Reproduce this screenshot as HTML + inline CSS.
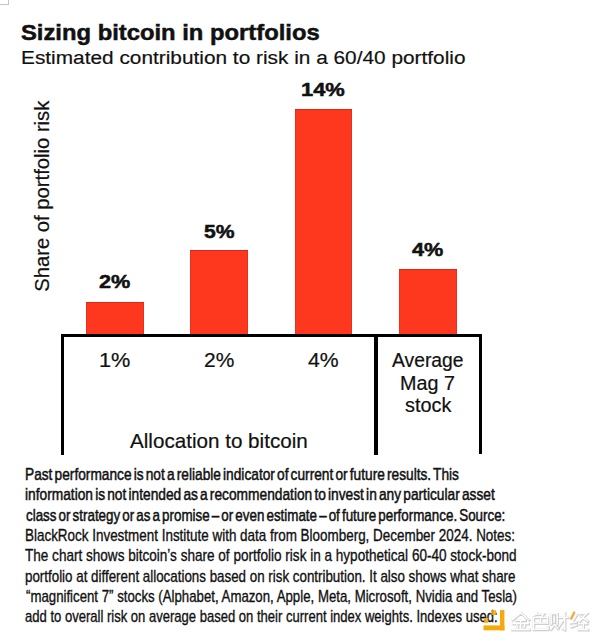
<!DOCTYPE html>
<html><head><meta charset="utf-8">
<style>
html,body{margin:0;padding:0;background:#fff;}
body{width:600px;height:642px;position:relative;overflow:hidden;font-family:"Liberation Sans",sans-serif;color:#111;}
.a{position:absolute;white-space:nowrap;line-height:1;transform-origin:0 0;}
.bar{position:absolute;background:#fe371f;box-shadow:inset 0 1px 0 rgba(150,20,10,0.35),inset 1px 0 0 rgba(150,20,10,0.2),inset -1px 0 0 rgba(150,20,10,0.2);}
.ln{position:absolute;background:#000;}
.b{font-weight:bold;}
</style></head><body>
<div class="bar" style="left:86px;top:301.5px;width:58px;height:32.5px;"></div>
<div class="bar" style="left:189.9px;top:249.8px;width:58.1px;height:84.2px;"></div>
<div class="bar" style="left:294.7px;top:109px;width:57.6px;height:225px;"></div>
<div class="bar" style="left:399.2px;top:269px;width:57.8px;height:65px;"></div>
<div class="ln" style="left:61px;top:334px;width:420.5px;height:3px;"></div>
<div class="ln" style="left:61px;top:334px;width:3.2px;height:120.5px;"></div>
<div class="ln" style="left:374.2px;top:334px;width:3.4px;height:120.7px;"></div>
<div class="ln" style="left:478.8px;top:334px;width:2.8px;height:120.4px;"></div>
<div class="a b" id="title" style="left:20.80px;top:22px;font-size:22.5px;transform:scaleX(1.0573);-webkit-text-stroke:0.5px #111;">Sizing bitcoin in portfolios</div>
<div class="a" id="sub" style="left:20.71px;top:48px;font-size:19.2px;transform:scaleX(1.0854);-webkit-text-stroke:0.2px #111;">Estimated contribution to risk in a 60/40 portfolio</div>
<div class="a b" id="v1" style="left:98.80px;top:272px;font-size:19.2px;transform:scaleX(1.1275);-webkit-text-stroke:0.5px #111;">2%</div>
<div class="a b" id="v2" style="left:204.10px;top:222px;font-size:19.2px;transform:scaleX(1.0986);-webkit-text-stroke:0.5px #111;">5%</div>
<div class="a b" id="v3" style="left:301.06px;top:80px;font-size:19.2px;transform:scaleX(1.1408);-webkit-text-stroke:0.5px #111;">14%</div>
<div class="a b" id="v4" style="left:412.40px;top:240px;font-size:19.2px;transform:scaleX(1.1275);-webkit-text-stroke:0.5px #111;">4%</div>
<div class="a" id="x1" style="left:98.99px;top:351px;font-size:19.5px;transform:scaleX(1.1138);-webkit-text-stroke:0.2px #111;">1%</div>
<div class="a" id="x2" style="left:204.10px;top:351px;font-size:19.5px;transform:scaleX(1.0738);-webkit-text-stroke:0.2px #111;">2%</div>
<div class="a" id="x3" style="left:308.00px;top:351px;font-size:19.5px;transform:scaleX(1.0882);-webkit-text-stroke:0.2px #111;">4%</div>
<div class="a" id="x4a" style="left:392.10px;top:351px;font-size:19.3px;transform:scaleX(1.0008);-webkit-text-stroke:0.2px #111;">Average</div>
<div class="a" id="x4b" style="left:399.88px;top:374px;font-size:19.3px;transform:scaleX(1.0238);-webkit-text-stroke:0.2px #111;">Mag 7</div>
<div class="a" id="x4c" style="left:404.50px;top:396px;font-size:19.3px;transform:scaleX(1.0295);-webkit-text-stroke:0.2px #111;">stock</div>
<div class="a" id="alloc" style="left:130.00px;top:432px;font-size:19.8px;transform:scaleX(1.0429);-webkit-text-stroke:0.2px #111;">Allocation to bitcoin</div>
<div class="a" id="f1" style="left:25.22px;top:467px;font-size:16.6px;transform:scaleX(0.8260);word-spacing:-2.0px;-webkit-text-stroke:0.5px #111;">Past performance is not a reliable indicator of current or future results. This</div>
<div class="a" id="f2" style="left:24.97px;top:487px;font-size:16.6px;transform:scaleX(0.8282);word-spacing:-2.0px;-webkit-text-stroke:0.5px #111;">information is not intended as a recommendation to invest in any particular asset</div>
<div class="a" id="f3" style="left:25.80px;top:508px;font-size:16.6px;transform:scaleX(0.8064);word-spacing:-2.0px;-webkit-text-stroke:0.5px #111;">class or strategy or as a promise – or even estimate – of future performance. Source:</div>
<div class="a" id="f4" style="left:25.29px;top:528px;font-size:16.6px;transform:scaleX(0.8099);-webkit-text-stroke:0.35px #111;">BlackRock Investment Institute with data from Bloomberg, December 2024. Notes:</div>
<div class="a" id="f5" style="left:25.30px;top:548px;font-size:16.6px;transform:scaleX(0.8166);-webkit-text-stroke:0.35px #111;">The chart shows bitcoin’s share of portfolio risk in a hypothetical 60-40 stock-bond</div>
<div class="a" id="f6" style="left:25.20px;top:569px;font-size:16.6px;transform:scaleX(0.8049);-webkit-text-stroke:0.35px #111;">portfolio at different allocations based on risk contribution. It also shows what share</div>
<div class="a" id="f7" style="left:25.50px;top:589px;font-size:16.6px;transform:scaleX(0.7971);-webkit-text-stroke:0.35px #111;">“magnificent 7” stocks (Alphabet, Amazon, Apple, Meta, Microsoft, Nvidia and Tesla)</div>
<div class="a" id="f8" style="left:25.00px;top:609px;font-size:16.6px;transform:scaleX(0.7858);-webkit-text-stroke:0.35px #111;">add to overall risk on average based on their current index weights. Indexes used:</div>
<div class="a" id="ylab" style="left:0;top:0;font-size:19.7px;transform-origin:0 0;transform:translate(33.20px,291.80px) rotate(-90deg) scaleX(1.0275);-webkit-text-stroke:0.2px #111;">Share of portfolio risk</div>
<div style="position:absolute;left:0;top:0;width:8px;height:4px;border-right:1.7px solid #c4c4c4;border-bottom:1.7px solid #c4c4c4;"></div>
<svg style="position:absolute;left:0;top:0" width="600" height="642" viewBox="0 0 600 642">
 <g fill="none" stroke-linecap="square" stroke="#cfcfcf" stroke-width="2.6" transform="translate(0.5,0.6)">
   <g transform="translate(511.7,612.2)"><path d="M9,0.8 L0.8,7.5 M9,0.8 L17.2,7.5 M4.5,8.2 H13.5 M1.5,11.5 H16.5 M9,8.2 V17 M5,13 L6,15.5 M13,13 L12,15.5 M0.5,17.3 H17.5"/></g>
   <g transform="translate(531.5,612.2)"><path d="M5,0.8 L2.5,3.5 M4,2 H12 L10,4.5 M2,5.2 H16 V11 H2 Z M9,5.2 V11 M2,11 V17.2 H16.5 V14.5"/></g>
   <g transform="translate(550.2,612.2)"><path d="M1,1.5 H7 V12 M1,1.5 V12 M4,4 V10 M3,13.5 L0.8,17 M5,13.5 L7.8,16.2 M9,5.2 H17.5 M14.5,0.8 V17.3 L12.5,16.3 M14,6.5 L8.8,14"/></g>
   <g transform="translate(570,612.2)"><path d="M6,3.5 L1.5,10.5 L6.2,10 M1.2,14.5 L6.5,12.8 M8.5,1.5 H16.5 L9.5,9 M10.8,3.8 L17.5,9 M9.5,11.5 H17 M13.2,11.5 V17 M8.5,17.3 H17.8"/></g>
  </g>
 <g fill="none" stroke-linecap="square" stroke="#ffffff" stroke-width="1.3">
   <g transform="translate(511.7,612.2)"><path d="M9,0.8 L0.8,7.5 M9,0.8 L17.2,7.5 M4.5,8.2 H13.5 M1.5,11.5 H16.5 M9,8.2 V17 M5,13 L6,15.5 M13,13 L12,15.5 M0.5,17.3 H17.5"/></g>
   <g transform="translate(531.5,612.2)"><path d="M5,0.8 L2.5,3.5 M4,2 H12 L10,4.5 M2,5.2 H16 V11 H2 Z M9,5.2 V11 M2,11 V17.2 H16.5 V14.5"/></g>
   <g transform="translate(550.2,612.2)"><path d="M1,1.5 H7 V12 M1,1.5 V12 M4,4 V10 M3,13.5 L0.8,17 M5,13.5 L7.8,16.2 M9,5.2 H17.5 M14.5,0.8 V17.3 L12.5,16.3 M14,6.5 L8.8,14"/></g>
   <g transform="translate(570,612.2)"><path d="M6,3.5 L1.5,10.5 L6.2,10 M1.2,14.5 L6.5,12.8 M8.5,1.5 H16.5 L9.5,9 M10.8,3.8 L17.5,9 M9.5,11.5 H17 M13.2,11.5 V17 M8.5,17.3 H17.8"/></g>
  </g>
 <path d="M574.2,612.6 L571.2,618.6" stroke="#f0b040" stroke-width="2.4" stroke-linecap="round"/>
 <g fill="#f6a90b">
  <rect x="500" y="610" width="4.4" height="20.3"/>
  <rect x="483.5" y="625.4" width="20.9" height="4.9"/>
  <rect x="491.3" y="610.1" width="4.9" height="4.9" opacity="0.85"/>
  <rect x="484.1" y="617.9" width="4.3" height="5.1" opacity="0.85"/>
 </g>
</svg>

</body></html>
